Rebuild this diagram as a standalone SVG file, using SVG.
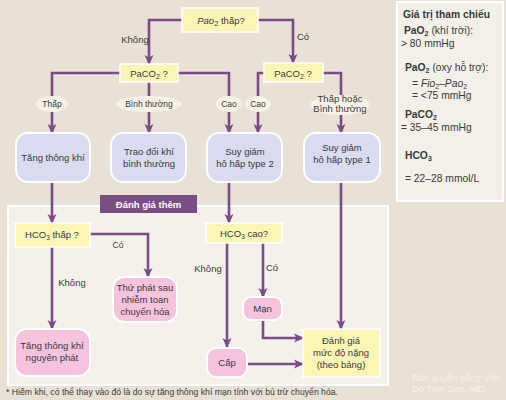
<svg xmlns="http://www.w3.org/2000/svg" width="506" height="400" viewBox="0 0 506 400">
<defs>
<marker id="ah" markerUnits="userSpaceOnUse" markerWidth="10" markerHeight="10" viewBox="0 0 10 10" refX="9" refY="5" orient="auto">
<path d="M0,0.5 L10,5 L0,9.5 L2.5,5 Z" fill="#7b4d88"/>
</marker>
<style>
text{font-family:"Liberation Sans",Arial,sans-serif;fill:#3a3a3a;font-size:9.5px}
.c{text-anchor:middle}
.b{font-weight:bold}
.y{fill:#fbf6b6;stroke:#ffffff;stroke-width:1.5}
.v{fill:#d9dbf0;stroke:#ffffff;stroke-width:2}
.p{fill:#f5c4dc;stroke:#ffffff;stroke-width:2}
.e{fill:#f6f2e7}
.la{fill:none;stroke:#7b4d88;stroke-width:2.6;marker-end:url(#ah)}
.sm{font-size:8.5px}
.r{font-size:10.3px}
</style>
</defs>
<rect x="0" y="0" width="506" height="400" fill="#e8e1d5"/>
<rect x="8" y="206" width="380" height="179" fill="#f4f1ea" stroke="#ffffff" stroke-width="2"/>
<rect x="397" y="2" width="106" height="199" fill="#f3f0e9" stroke="#ffffff" stroke-width="2"/>

<g id="connectors">
<path class="la" d="M182,20 H149 V64"/>
<path class="la" d="M258,20 H293 V63"/>
<path class="la" d="M120,73 H52 V133"/>
<path class="la" d="M149,82 V133"/>
<path class="la" d="M178,73 H229 V133"/>
<path class="la" d="M264,73 H258 V133"/>
<path class="la" d="M323,73 H341 V133"/>
<path class="la" d="M52,182 V223"/>
<path class="la" d="M229,182 V223"/>
<path class="la" d="M341,182 V329"/>
<path class="la" d="M90,234 H148 V277"/>
<path class="la" d="M52,247 V329"/>
<path class="la" d="M227,243 V347"/>
<path class="la" d="M263,243 V297"/>
<path class="la" d="M263,320 V338 H303"/>
<path class="la" d="M247,364 H303"/>
</g>

<g id="labels">
<text x="135" y="43" class="c">Không</text>
<text x="303" y="40" class="c">Có</text>
<ellipse class="e" cx="52" cy="104" rx="16" ry="8"/>
<text x="52" y="107" class="c sm">Thấp</text>
<ellipse class="e" cx="149" cy="104" rx="33" ry="8"/>
<text x="149" y="107" class="c sm">Bình thường</text>
<ellipse class="e" cx="229" cy="104" rx="13" ry="8"/>
<text x="229" y="107" class="c sm">Cao</text>
<ellipse class="e" cx="258" cy="104" rx="13" ry="8"/>
<text x="258" y="107" class="c sm">Cao</text>
<ellipse class="e" cx="340" cy="105" rx="30" ry="10"/>
<text x="340" y="102" class="c" font-size="8">Thấp hoặc</text>
<text x="340" y="112" class="c" font-size="8">Bình thường</text>
<text x="118" y="248" class="c sm">Có</text>
<text x="72" y="286" class="c">Không</text>
<text x="208" y="272" class="c">Không</text>
<text x="272" y="271" class="c">Có</text>
</g>

<g id="n-pao2">
<rect class="y" x="182" y="8" width="76" height="24"/>
<text x="221" y="24" class="c" font-size="11.5"><tspan font-style="italic">Pao</tspan><tspan font-size="7.5" dy="2">2</tspan><tspan dy="-2"> thấp?</tspan></text>
</g>
<g id="n-paco2-l">
<rect class="y" x="120" y="64" width="58" height="18"/>
<text x="149" y="77" class="c" font-size="10.5">PaCO<tspan font-size="7" dy="2">2</tspan><tspan dy="-2"> ?</tspan></text>
</g>
<g id="n-paco2-r">
<rect class="y" x="264" y="63" width="59" height="19"/>
<text x="293" y="77" class="c" font-size="10.5">PaCO<tspan font-size="7" dy="2">2</tspan><tspan dy="-2"> ?</tspan></text>
</g>
<g id="n-tangthongkhi">
<rect class="v" x="16" y="133" width="74" height="49" rx="12"/>
<text x="53" y="161" class="c">Tăng thông khí</text>
</g>
<g id="n-traodoikhi">
<rect class="v" x="111" y="133" width="75" height="49" rx="12"/>
<text x="149" y="155" class="c">Trao đổi khí</text>
<text x="149" y="167" class="c">bình thường</text>
</g>
<g id="n-type2">
<rect class="v" x="207" y="133" width="75" height="49" rx="12"/>
<text x="245" y="155" class="c">Suy giảm</text>
<text x="245" y="167" class="c">hô hấp type 2</text>
</g>
<g id="n-type1">
<rect class="v" x="304" y="133" width="76" height="49" rx="12"/>
<text x="342" y="151" class="c">Suy giảm</text>
<text x="342" y="163" class="c">hô hấp type 1</text>
</g>

<g id="n-header">
<rect x="100" y="195" width="97" height="18" fill="#7b4d85"/>
<text x="148.5" y="208" class="c b" style="fill:#ffffff" font-size="10">Đánh giá thêm</text>
</g>
<g id="n-hco3-thap">
<rect class="y" x="15" y="223" width="75" height="24"/>
<text x="52" y="238" class="c">HCO<tspan font-size="6.5" dy="2">3</tspan><tspan dy="-2"> thấp ?</tspan></text>
</g>
<g id="n-thuphat">
<rect class="p" x="113" y="277" width="64" height="45" rx="11"/>
<text x="145" y="291" class="c">Thứ phát sau</text>
<text x="145" y="303" class="c">nhiễm toan</text>
<text x="145" y="315" class="c">chuyển hóa</text>
</g>
<g id="n-nguyenphat">
<rect class="p" x="15" y="329" width="75" height="47" rx="12"/>
<text x="52" y="349" class="c">Tăng thông khí</text>
<text x="52" y="361" class="c">nguyên phát</text>
</g>
<g id="n-hco3-cao">
<rect class="y" x="206" y="223" width="76" height="20"/>
<text x="244" y="237" class="c">HCO<tspan font-size="6.5" dy="2">3</tspan><tspan dy="-2"> cao?</tspan></text>
</g>
<g id="n-man">
<rect class="p" x="243" y="297" width="39" height="23" rx="8"/>
<text x="262.5" y="312" class="c">Mạn</text>
</g>
<g id="n-cap">
<rect class="p" x="207" y="348" width="40" height="29" rx="9"/>
<text x="227" y="366" class="c">Cấp</text>
</g>
<g id="n-danhgia">
<rect class="y" x="303" y="329" width="77" height="48"/>
<text x="341" y="344" class="c">Đánh giá</text>
<text x="341" y="356" class="c">mức độ nặng</text>
<text x="341" y="368" class="c">(theo bảng)</text>
</g>

<g id="reference">
<text x="403" y="18" class="b r">Giá trị tham chiếu</text>
<text x="404" y="34" class="r"><tspan class="b">PaO<tspan font-size="7" dy="2">2</tspan></tspan><tspan dy="-2"> (khí trời):</tspan></text>
<text x="401" y="47" class="r">&gt; 80 mmHg</text>
<text x="405" y="71" class="r"><tspan class="b">PaO<tspan font-size="7" dy="2">2</tspan></tspan><tspan dy="-2"> (oxy hỗ trợ):</tspan></text>
<text x="412" y="87" class="r">= <tspan font-style="italic">Fio</tspan><tspan font-size="7" dy="2">2</tspan><tspan dy="-2">–</tspan><tspan font-style="italic">Pao</tspan><tspan font-size="7" dy="2">2</tspan></text>
<text x="412" y="99" class="r">= &lt;75 mmHg</text>
<text x="405" y="118" class="b r">PaCO<tspan font-size="7" dy="2">2</tspan></text>
<text x="401" y="131" class="r">= 35–45 mmHg</text>
<text x="405" y="159" class="b r">HCO<tspan font-size="7" dy="2">3</tspan></text>
<text x="405" y="182" class="r">= 22–28 mmol/L</text>
</g>

<text x="6" y="395" font-size="8" textLength="332" lengthAdjust="spacingAndGlyphs">* Hiếm khi, có thể thay vào đó là do sự tăng thông khí mạn tính với bù trừ chuyển hóa.</text>
<text x="412" y="381" font-size="9" style="fill:#f7f2ea">Bản quyền tiếng Việt:</text>
<text x="412" y="392" font-size="9" style="fill:#f7f2ea">Do Tien Son, MD.</text>
</svg>
